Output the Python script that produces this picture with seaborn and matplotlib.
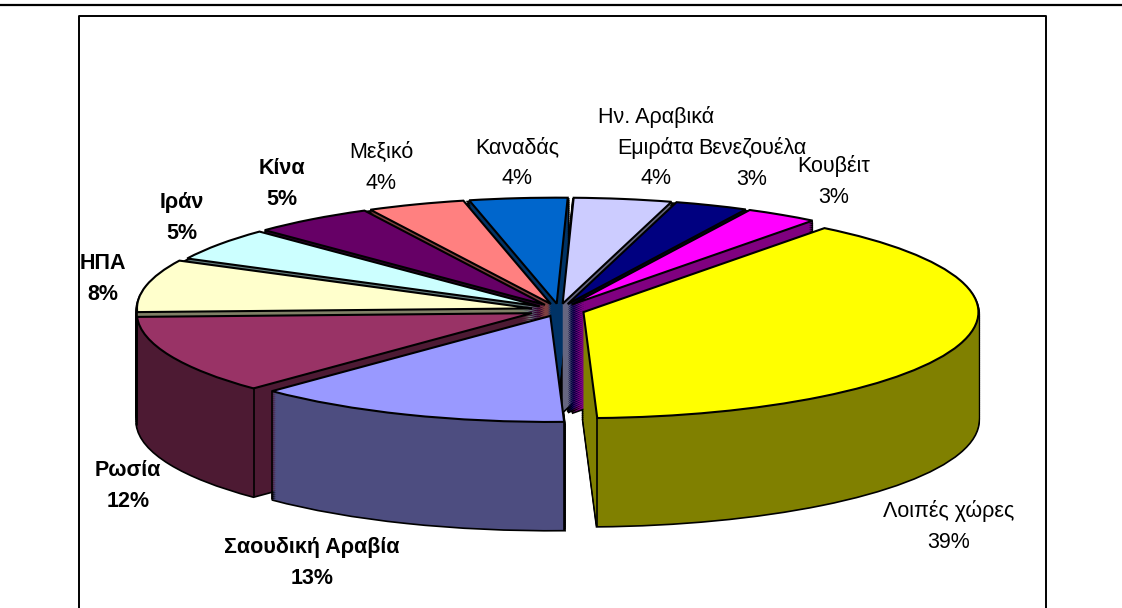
import numpy as np
import matplotlib
matplotlib.use("Agg")
import matplotlib.pyplot as plt
import seaborn as sns

# donnees (parts en %)
pays = ["Λοιπές χώρες", "Σαουδική Αραβία", "Ρωσία", "ΗΠΑ", "Ιράν", "Κίνα", "Μεξικό",
        "Καναδάς", "Ην. Αραβικά\nΕμιράτα", "Βενεζουέλα", "Κουβέιτ"]
parts = [39, 13, 12, 8, 5, 5, 4, 4, 4, 3, 3]

couleurs = ["#FFFF00", "#9999FF", "#993366", "#FFFFCC", "#CCFFFF", "#660066",
            "#FF8080", "#0066CC", "#CCCCFF", "#000080", "#FF00FF"]
couleurs_cote = ["#808000", "#4D4D80", "#4D1A33", "#808066", "#668080", "#330033",
                 "#804040", "#003366", "#666680", "#000040", "#800080"]

en_gras = ["Σαουδική Αραβία", "Ρωσία", "ΗΠΑ", "Ιράν", "Κίνα"]

# position des etiquettes en pixels (centre du texte)
pos_labels = [(949, 525), (312, 561), (128, 484), (103, 277), (182, 216), (282, 182),
              (381, 166), (517, 161), (656, 146), (752, 162), (834, 180)]

W, H = 1122, 608
CX, CY = 559, 310      # centre du camembert
RX, RY = 395, 106      # demi axes de l'ellipse
EPAIS = 108            # epaisseur de la tranche en px
DEPART = 52.4
ECLATE = [0.065, 0.06, 0.075, 0.07, 0.06, 0.06, 0.06, 0.06, 0.06, 0.06, 0.06]

sns.set_theme(style="white")
plt.rcParams["font.family"] = ["Liberation Sans", "DejaVu Sans"]

fig, ax = plt.subplots(figsize=(W / 100, H / 100), dpi=100)
ax.set_position([0, 0, 1, 1])


def camembert(dy, col, **wedge):
    return ax.pie(parts, explode=ECLATE, colors=col, startangle=DEPART, counterclock=False,
                  center=(0, dy), radius=1, wedgeprops=wedge)[0]


# cotes : une passe noire pour le contour, puis une passe de couleur par dessus
niveaux = np.arange(-EPAIS, 0, 2) / RY
for dy in niveaux:
    camembert(dy, ["black"] * len(parts), linewidth=2.4, edgecolor="black")
for dy in niveaux:
    camembert(dy, couleurs_cote, linewidth=0)

# dessus
dessus = camembert(0, couleurs, linewidth=1.5, edgecolor="black")

# aretes verticales sur la face avant
for w in dessus:
    cx, cy = w.center
    for angle in (w.theta1, w.theta2):
        a = np.radians(angle)
        x, y = cx + w.r * np.cos(a), cy + w.r * np.sin(a)
        if y < 0:
            ax.plot([x, x], [y, y - EPAIS / RY], color="black", lw=1.2, zorder=5)

ax.set_aspect("auto")
ax.set_xlim(-CX / RX, (W - CX) / RX)
ax.set_ylim((CY - H) / RY, CY / RY)

# etiquettes, ligne par ligne
for nom, part, (px, py) in zip(pays, parts, pos_labels):
    lignes = nom.split("\n") + [f"{part}%"]
    for i, ligne in enumerate(lignes):
        base = py + (i - (len(lignes) - 1) / 2) * 30.5 + 7.5
        fig.text(px / W, 1 - base / H, ligne, ha="center", va="baseline", fontsize=15.5,
                 color="black", fontweight="bold" if nom in en_gras else "normal")

# cadre du graphique et filet du haut
fig.add_artist(plt.Line2D([0, 1], [1 - 5 / H, 1 - 5 / H], color="black", lw=1.6))
fig.add_artist(plt.Line2D([79 / W, 79 / W, 1046 / W, 1046 / W],
                          [0, 1 - 15.5 / H, 1 - 15.5 / H, 0], color="black", lw=1.4))

fig.savefig("out.png", dpi=100)
